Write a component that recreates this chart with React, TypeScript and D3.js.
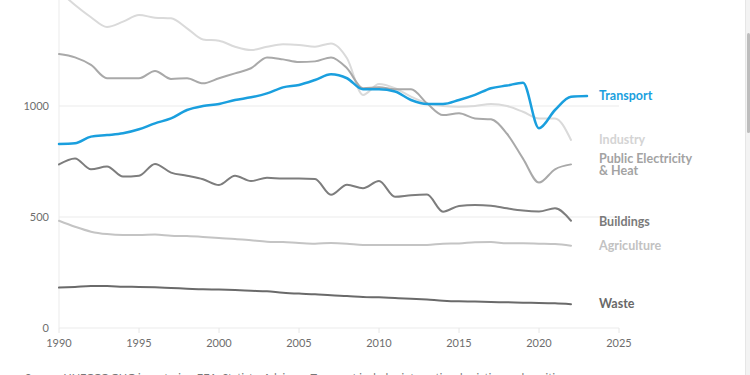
import React, { useEffect, useRef } from 'react';
import * as d3 from 'd3';

// emissions by sector, 1990–2023 (Mt CO2e)
const years = d3.range(1990, 2024);

const transport = [829, 832, 862, 869, 877, 895, 922, 944, 982, 1000, 1009, 1027, 1039, 1057, 1084, 1095, 1117, 1143, 1125, 1075, 1075, 1065, 1027, 1009, 1009, 1027, 1050, 1080, 1092, 1105, 900, 982, 1042, 1045];
const industry = [1518, 1455, 1400, 1356, 1380, 1410, 1398, 1395, 1350, 1300, 1294, 1267, 1252, 1267, 1278, 1275, 1267, 1282, 1215, 1050, 1099, 1080, 1042, 1012, 1000, 997, 1000, 1009, 1000, 974, 944, 944, 847];
const publicHeat = [1234, 1219, 1185, 1125, 1125, 1125, 1158, 1122, 1125, 1102, 1125, 1147, 1170, 1219, 1210, 1198, 1201, 1219, 1170, 1080, 1084, 1075, 1075, 1012, 959, 967, 944, 940, 875, 763, 655, 715, 737];
const buildings = [737, 764, 715, 727, 682, 686, 739, 700, 686, 670, 644, 686, 662, 677, 673, 673, 671, 600, 645, 630, 662, 591, 598, 601, 524, 550, 554, 551, 539, 529, 525, 539, 483];
const agriculture = [483, 456, 434, 423, 419, 419, 421, 416, 414, 410, 405, 401, 395, 389, 387, 383, 380, 383, 380, 374, 374, 374, 374, 374, 380, 381, 386, 387, 382, 382, 380, 378, 371];
const waste = [182, 185, 189, 189, 186, 185, 183, 180, 177, 174, 173, 171, 168, 165, 159, 155, 152, 147, 144, 140, 138, 135, 132, 128, 123, 120, 119, 117, 116, 114, 113, 111, 107];

const yTicks = [0, 500, 1000];
const xTicks = [1990, 1995, 2000, 2005, 2010, 2015, 2020, 2025];
const footnote = 'Source: UNFCCC GHG inventories, EEA, Statista, Advisory. Transport includes international aviation and maritime';

const sectors = [
  { name: ['Industry'], values: industry, color: '#dadada', labelColor: '#d4d4d4', width: 2, dy: 0 },
  { name: ['Public Electricity', '& Heat'], values: publicHeat, color: '#a9a9a9', labelColor: '#a3a3a3', width: 2, dy: -5 },
  { name: ['Agriculture'], values: agriculture, color: '#c4c4c4', labelColor: '#c2c2c2', width: 2, dy: 0 },
  { name: ['Buildings'], values: buildings, color: '#7d7d7d', labelColor: '#7a7a7a', width: 2, dy: 1 },
  { name: ['Waste'], values: waste, color: '#6a6a6a', labelColor: '#686868', width: 2, dy: 0 },
  { name: ['Transport'], values: transport, color: '#1a9fde', labelColor: '#1a9fde', width: 2.5, dy: 0 },
];

export default function SectorEmissions() {
  const ref = useRef<SVGSVGElement>(null);

  useEffect(() => {
    const width = 750;
    const height = 375;
    const font = 'Lato, "Open Sans", sans-serif';

    const svg = d3.select(ref.current).attr('viewBox', [0, 0, width, height]);
    svg.selectAll('*').remove();

    const x = d3.scaleLinear([1990, 2025], [59, 619]);
    const y = d3.scaleLinear([0, 1000], [328, 106]);

    // grid
    svg
      .append('g')
      .selectAll('line')
      .data(yTicks)
      .join('line')
      .attr('x1', x(1990))
      .attr('x2', x(2025))
      .attr('y1', (d) => y(d))
      .attr('y2', (d) => y(d))
      .attr('stroke', '#ebebeb')
      .attr('stroke-width', 1);

    // y axis rule
    svg
      .append('line')
      .attr('x1', x(1990))
      .attr('x2', x(1990))
      .attr('y1', 0)
      .attr('y2', y(0))
      .attr('stroke', '#ebebeb');

    svg
      .append('g')
      .selectAll('text')
      .data(yTicks)
      .join('text')
      .attr('x', 49)
      .attr('y', (d) => y(d) + 4)
      .attr('text-anchor', 'end')
      .attr('font-family', font)
      .attr('font-size', 11)
      .attr('fill', '#6e6e6e')
      .text((d) => d);

    // x axis ticks
    const xg = svg.append('g');
    xg.selectAll('line')
      .data(xTicks)
      .join('line')
      .attr('x1', (d) => x(d))
      .attr('x2', (d) => x(d))
      .attr('y1', y(0))
      .attr('y2', y(0) + 5)
      .attr('stroke', '#e6e6e6');
    xg.selectAll('text')
      .data(xTicks)
      .join('text')
      .attr('x', (d) => x(d))
      .attr('y', y(0) + 19)
      .attr('text-anchor', 'middle')
      .attr('font-family', font)
      .attr('font-size', 11)
      .attr('fill', '#6e6e6e')
      .text((d) => d);

    const line = d3
      .line<number>()
      .x((_, i) => x(years[i]))
      .y((d) => y(d))
      .curve(d3.curveMonotoneX);

    const plot = svg.append('g');
    sectors.forEach((s) => {
      plot
        .append('path')
        .attr('d', line(s.values))
        .attr('fill', 'none')
        .attr('stroke', s.color)
        .attr('stroke-width', s.width)
        .attr('stroke-linejoin', 'round')
        .attr('stroke-linecap', 'round');

      const last = s.values[s.values.length - 1];
      const ly = y(last) + 4 + s.dy;
      // one text per line so the two-line label stacks cleanly
      s.name.forEach((t, i) => {
        plot
          .append('text')
          .attr('x', 599)
          .attr('y', ly + i * 12)
          .attr('font-family', font)
          .attr('font-size', 12.5)
          .attr('font-weight', 700)
          .attr('fill', s.labelColor)
          .text(t);
      });
    });

    // source note, partly below the fold
    svg
      .append('text')
      .attr('x', 25)
      .attr('y', 382)
      .attr('font-family', font)
      .attr('font-size', 11)
      .attr('fill', '#777')
      .text(footnote);

    // page scrollbar
    svg.append('rect').attr('x', 745).attr('y', 0).attr('width', 5).attr('height', height).attr('fill', '#f3f3f3');
    svg.append('line').attr('x1', 745.5).attr('x2', 745.5).attr('y1', 0).attr('y2', height).attr('stroke', '#e6e6e6');
    svg.append('rect').attr('x', 747).attr('y', 33).attr('width', 3).attr('height', 100).attr('rx', 1.5).attr('fill', '#bdbdbd');
  }, []);

  return (
    <div style={{ position: 'fixed', left: 0, top: 0, width: 750, height: 375, background: '#fff' }}>
      <svg ref={ref} width={750} height={375} style={{ display: 'block' }} />
    </div>
  );
}
